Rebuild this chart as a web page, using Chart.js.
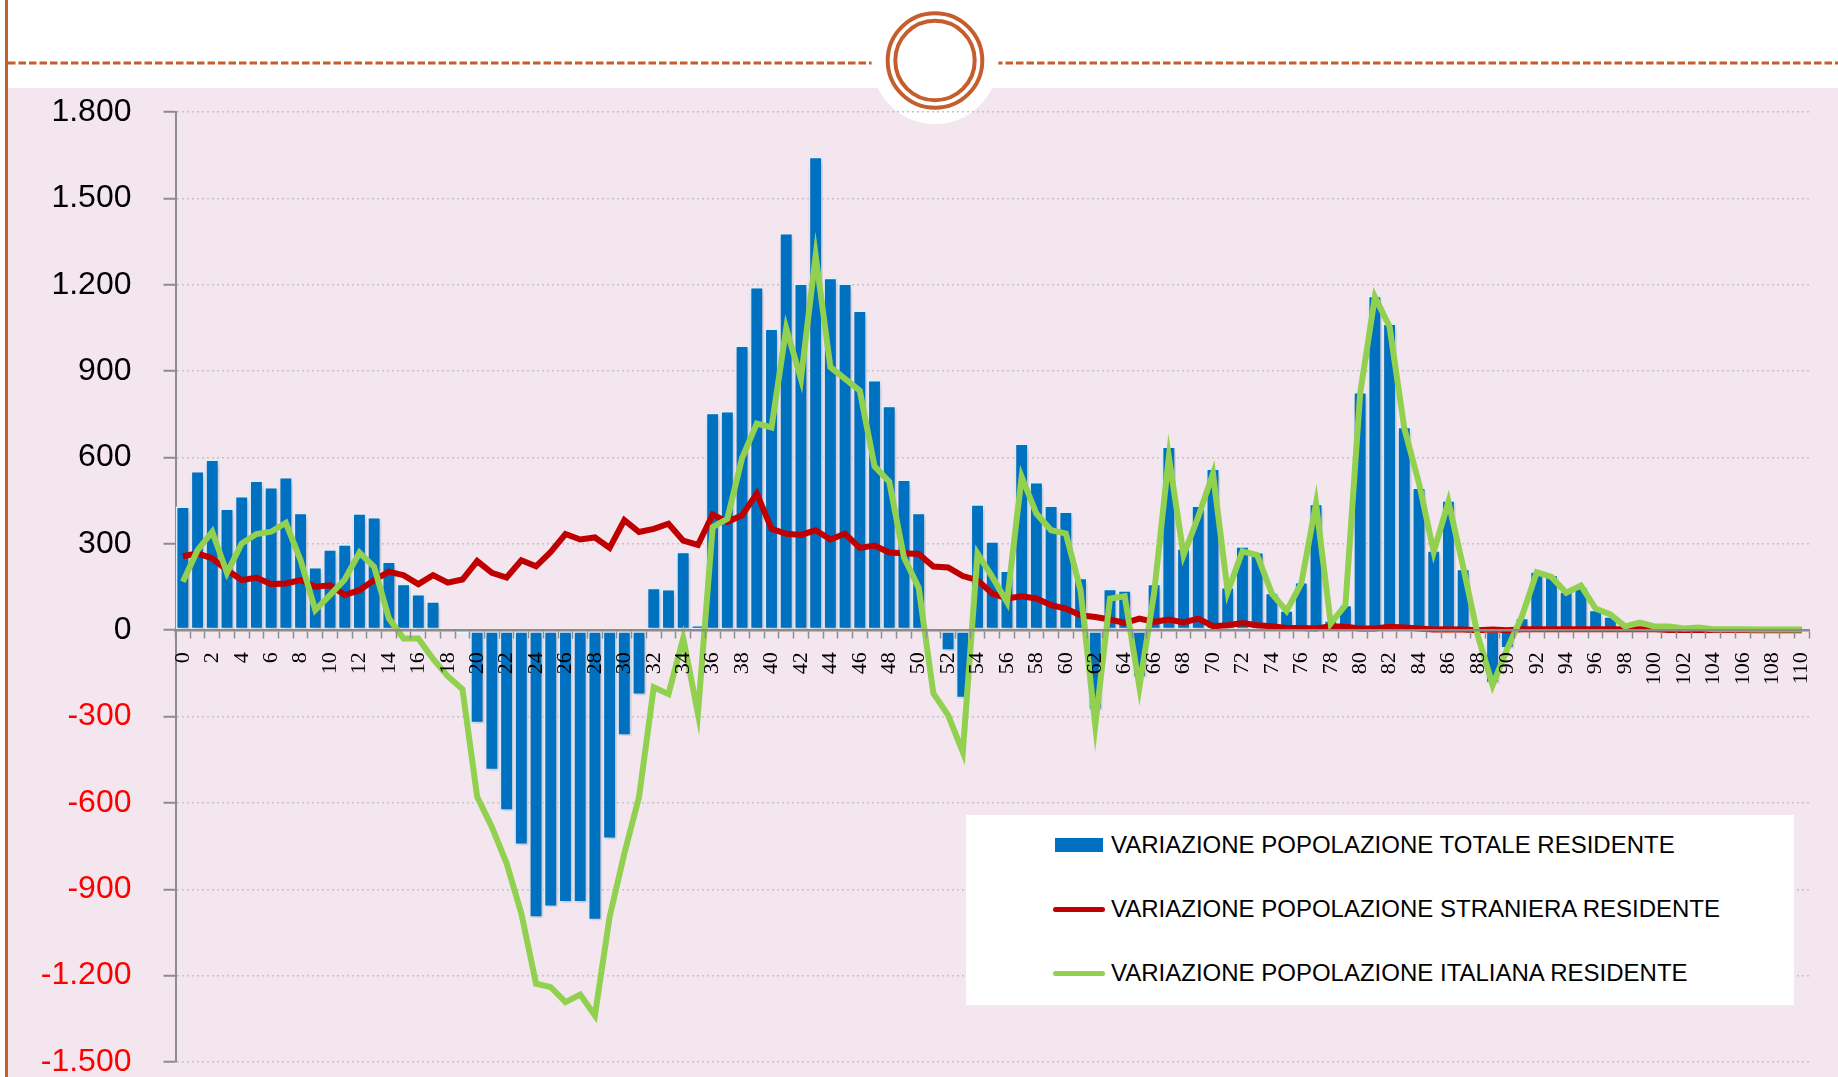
<!DOCTYPE html>
<html lang="it">
<head>
<meta charset="utf-8">
<title>Variazione popolazione residente per età</title>
<script src="https://cdn.jsdelivr.net/npm/chart.js@4.4.1/dist/chart.umd.min.js"></script>
<style>
  html, body { margin: 0; padding: 0; }
  body {
    width: 1838px; height: 1077px; position: relative; overflow: hidden;
    background: #fff; font-family: 'Liberation Sans', Arial, sans-serif;
  }
  .panel { position: absolute; left: 8px; top: 88px; width: 1830px; height: 989px; background: #f3e6ee; }
  .sideline { position: absolute; left: 5px; top: 0; width: 2.5px; height: 1077px; background: #c55d2c; }
  .deco { position: absolute; left: 0; top: 0; }
  #chart { position: absolute; left: 8px; top: 88px; }
  .legend {
    position: absolute; left: 966px; top: 815px; width: 828px; height: 190px;
    background: #fff;
  }
  .legend .row { position: absolute; left: 87px; height: 30px; display: flex; align-items: center; }
  .legend .sw { width: 50px; height: 30px; position: relative; margin-right: 8px; }
  .legend .txt { font-size: 24px; color: #000; white-space: nowrap; }
</style>
</head>
<body>
<div class="panel"></div>
<svg class="deco" width="1838" height="130">
  <line x1="8" y1="63" x2="1838" y2="63" stroke="#c55d2c" stroke-width="3" stroke-dasharray="7.5 3"/>
  <circle cx="935" cy="60.5" r="63.5" fill="#fff"/>
  <circle cx="935" cy="60.5" r="47.3" fill="none" stroke="#c55d2c" stroke-width="4"/>
  <circle cx="935" cy="60.5" r="39.7" fill="none" stroke="#c55d2c" stroke-width="4"/>
</svg>
<div class="sideline"></div>
<canvas id="chart" width="1830" height="989"></canvas>
<div class="legend" id="legend"></div>

<script>
// età 0..110
const ages = [];
for (let a = 0; a <= 110; a++) ages.push(String(a));

// variazione popolazione totale residente (barre)
const totale = [
  430, 554, 594, 423, 467, 521, 498, 533, 409, 220, 282, 299, 407, 394, 239, 162, 126, 101, 0, -15,
  -324, -487, -628, -747, -1000, -962, -947, -947, -1008, -726,
  -367, -226, 148, 144, 273, 19, 756, 762, 990, 1193,
  1049, 1380, 1205, 1645, 1225, 1205, 1111, 870, 780, 524,
  409, 0, -72, -237, 438, 310, 208, 649, 515, 434,
  413, 183, -278, 145, 139, -165, 162, 639, 285, 434,
  562, 151, 292, 272, 131, 70, 168, 440, 35, 89,
  828, 1162, 1066, 707, 496, 278, 452, 214, -15, -185,
  -64, 44, 205, 193, 136, 153, 72, 49, 15, 9,
  13, 12, 6, 8, 3, 2, 2, 1, 1, 1, 0
];

// variazione popolazione straniera residente
const straniera = [
  257, 267, 249, 209, 174, 183, 160, 162, 174, 151, 156, 122, 139, 174, 203, 191, 160, 191, 165, 176,
  240, 199, 183, 243, 222, 272, 334, 315, 322, 286,
  382, 341, 352, 370, 311, 296, 402, 376, 399, 475,
  352, 335, 331, 347, 315, 335, 286, 294, 270, 267,
  265, 221, 218, 188, 174, 127, 110, 118, 110, 87,
  75, 52, 46, 37, 25, 40, 29, 37, 27, 40,
  14, 17, 25, 17, 14, 8, 8, 6, 14, 12,
  6, 6, 12, 9, 6, 2, 3, 2, 0, 2,
  0, 3, 3, 3, 3, 3, 3, 3, 3, 3,
  3, 1, 1, 1, 1, 1, 1, 0, 0, 0, 0
];

// variazione popolazione italiana residente
const italiana = [
  168, 278, 342, 199, 301, 334, 342, 373, 243, 70, 122, 176, 269, 220, 41, -29, -29, -100, -160, -205,
  -579, -684, -810, -984, -1228, -1240, -1292, -1266, -1338, -996,
  -776, -579, -198, -222, -28, -290, 358, 387, 598, 718,
  704, 1049, 873, 1301, 914, 873, 832, 569, 516, 253,
  148, -220, -295, -423, 266, 185, 98, 533, 405, 347,
  336, 139, -330, 110, 118, -197, 130, 602, 261, 394,
  544, 133, 274, 261, 127, 67, 162, 440, 23, 87,
  822, 1158, 1054, 701, 510, 272, 446, 220, -20, -191,
  -64, 49, 201, 185, 130, 155, 75, 55, 13, 26,
  13, 13, 6, 9, 3, 3, 3, 2, 2, 2, 2
];

const yTicks = [-1500, -1200, -900, -600, -300, 0, 300, 600, 900, 1200, 1500, 1800];

const seriesNames = [
  'VARIAZIONE POPOLAZIONE TOTALE RESIDENTE',
  'VARIAZIONE POPOLAZIONE STRANIERA RESIDENTE',
  'VARIAZIONE POPOLAZIONE ITALIANA RESIDENTE'
];

function fmt(v) {
  // separatore delle migliaia con il punto
  const s = String(Math.abs(v)).replace(/\B(?=(\d{3})+(?!\d))/g, '.');
  return (v < 0 ? '-' : '') + s;
}

// ombra morbida sotto le barre
const barShadow = {
  id: 'barShadow',
  beforeDatasetDraw(chart, args) {
    if (args.meta.type !== 'bar') return;
    const ctx = chart.ctx;
    ctx.save();
    ctx.shadowColor = 'rgba(110, 50, 70, 0.3)';
    ctx.shadowBlur = 6;
    ctx.shadowOffsetX = 2;
    ctx.shadowOffsetY = 3;
  },
  afterDatasetDraw(chart, args) {
    if (args.meta.type !== 'bar') return;
    chart.ctx.restore();
  }
};

const ctx = document.getElementById('chart').getContext('2d');
const chart = new Chart(ctx, {
  data: {
    labels: ages,
    datasets: [
      {
        type: 'bar',
        label: seriesNames[0],
        data: totale,
        backgroundColor: '#0070c0',
        borderColor: '#e2f6ff',
        borderWidth: 1.7,
        borderSkipped: false,
        barPercentage: 0.97,
        categoryPercentage: 1,
        order: 3
      },
      {
        type: 'line',
        label: seriesNames[1],
        data: straniera,
        borderColor: '#c00000',
        backgroundColor: '#c00000',
        borderWidth: 6,
        pointRadius: 0,
        tension: 0,
        order: 2
      },
      {
        type: 'line',
        label: seriesNames[2],
        data: italiana,
        borderColor: '#92d050',
        backgroundColor: '#92d050',
        borderWidth: 6,
        pointRadius: 0,
        tension: 0,
        order: 1
      }
    ]
  },
  options: {
    responsive: false,
    animation: false,
    devicePixelRatio: 1,
    layout: { padding: { top: 24, right: 29, bottom: 15, left: 0 } },
    plugins: {
      legend: { display: false },
      tooltip: { enabled: false }
    },
    scales: {
      x: {
        type: 'category',
        position: { y: 0 },
        offset: true,
        grid: {
          display: true,
          drawOnChartArea: false,
          offset: true,
          tickLength: 7,
          tickColor: '#8c8c8c',
          tickWidth: 1.5,
          z: 1
        },
        border: { display: true, color: '#8c8c8c', width: 2.5, z: 1 },
        ticks: {
          z: 1,
          autoSkip: false,
          maxRotation: 90,
          minRotation: 90,
          padding: 15,
          color: '#000',
          font: { family: "'Liberation Serif', 'Times New Roman', serif", size: 22 },
          callback: function (val, idx) {
            return idx % 2 === 0 ? this.getLabelForValue(val) : '';
          }
        },
        afterFit(scale) {
          scale.paddingLeft = 0;
          scale.paddingRight = 0;
        }
      },
      y: {
        min: -1500,
        max: 1800,
        afterBuildTicks(scale) {
          scale.ticks = yTicks.map(v => ({ value: v }));
        },
        grid: {
          color: '#c4c4c4',
          lineWidth: 1.5,
          tickLength: 12,
          tickColor: '#8c8c8c',
          tickWidth: 2,
          tickBorderDash: []
        },
        border: { display: true, color: '#8c8c8c', width: 2, dash: [2, 3] },
        ticks: {
          padding: 32,
          color: c => (c.tick && c.tick.value < 0 ? '#ff0000' : '#000000'),
          font: { family: "'Liberation Sans', Arial, sans-serif", size: 32 },
          callback: v => fmt(v)
        },
        afterFit(scale) {
          scale.width = 167.5;
          scale.paddingTop = 0;
          scale.paddingBottom = 0;
        }
      }
    }
  },
  plugins: [barShadow]
});

// legenda costruita dai dataset
const legend = document.getElementById('legend');
const rowTops = [15, 79, 143];
chart.data.datasets.forEach((ds, i) => {
  const row = document.createElement('div');
  row.className = 'row';
  row.style.top = rowTops[i] + 'px';
  const sw = document.createElement('div');
  sw.className = 'sw';
  const mark = document.createElement('div');
  mark.style.position = 'absolute';
  if (ds.type === 'bar') {
    mark.style.left = '2px'; mark.style.top = '8px';
    mark.style.width = '48px'; mark.style.height = '14px';
    mark.style.background = ds.backgroundColor;
  } else {
    mark.style.left = '0px'; mark.style.top = '12.5px';
    mark.style.width = '52px'; mark.style.height = '5px';
    mark.style.borderRadius = '3px';
    mark.style.background = ds.borderColor;
  }
  sw.appendChild(mark);
  const txt = document.createElement('span');
  txt.className = 'txt';
  txt.textContent = ds.label;
  row.appendChild(sw);
  row.appendChild(txt);
  legend.appendChild(row);
});
</script>
</body>
</html>
